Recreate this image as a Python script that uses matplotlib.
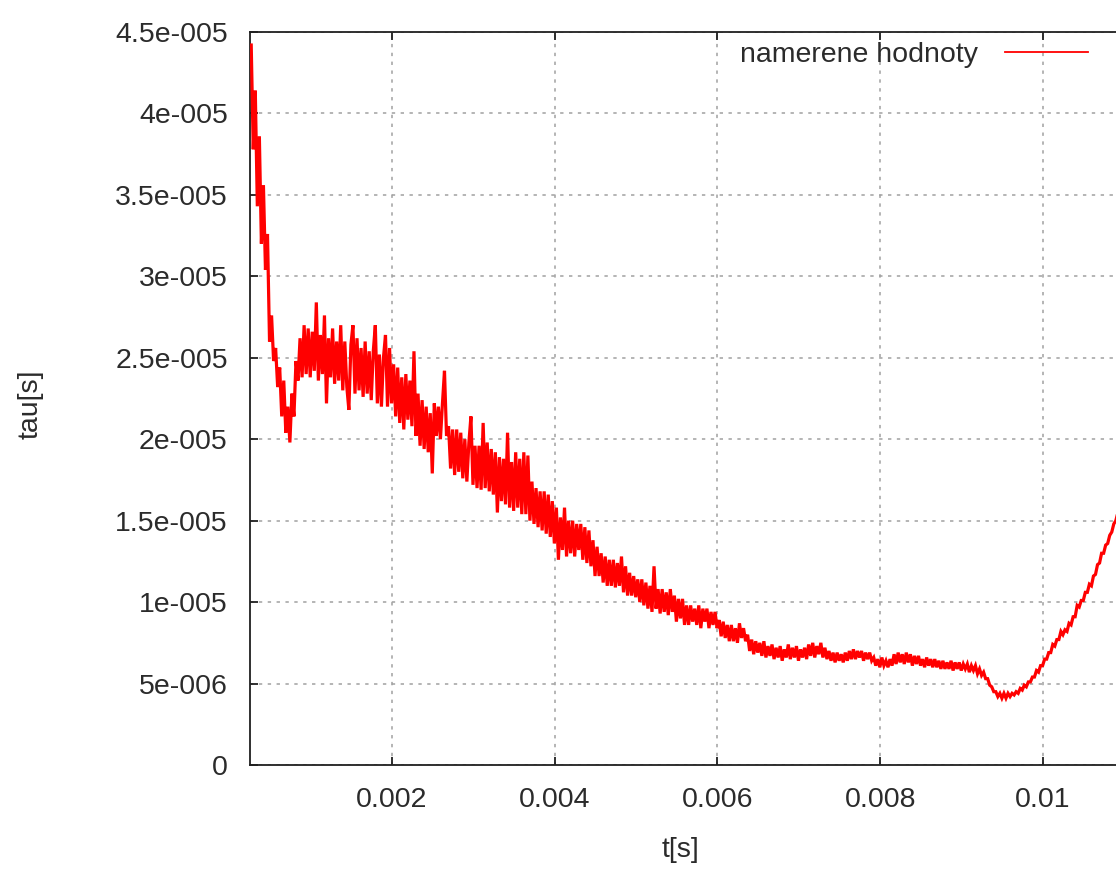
import numpy as np
import matplotlib
matplotlib.use("Agg")
import matplotlib.pyplot as plt
from matplotlib.ticker import FuncFormatter, FixedLocator

# measured relaxation time tau [us], sampled every 25 us of t
DT = 2.5e-5

T0_EARLY = 0.00027
tau_early_us = [
    44.2, 37.8, 41.4, 34.3, 38.6, 32.0, 35.6, 30.4, 32.6, 26.0,
    27.6, 24.8, 25.6, 23.2, 24.4, 21.4, 23.6, 20.4, 22.0, 19.8,
    22.8, 21.4, 24.8, 23.6, 26.2, 23.8, 27.0, 24.0, 26.8, 23.8,
    26.6, 24.2, 28.4, 23.6, 26.4, 24.0, 27.6, 22.2, 26.2, 23.8,
    26.8, 23.4, 26.0, 23.6, 27.0, 23.0, 26.0, 23.2, 21.8, 25.8,
    27.0, 22.8, 26.2, 23.0, 25.6, 22.6, 26.0, 22.8, 25.4, 22.4,
    25.4, 27.0, 22.2, 25.2, 22.0, 25.0, 26.4, 22.0, 25.6, 22.2,
    24.6, 21.4, 24.4, 21.0, 23.8, 20.6, 24.0, 21.2, 23.6, 20.8,
    25.4, 20.2, 22.8, 19.6, 22.4, 19.4, 22.0, 19.2, 21.6, 17.9,
    22.2, 20.2, 22.0, 20.0, 22.2, 24.2, 20.2, 20.8, 18.2, 20.6,
    17.8, 20.6, 18.0, 20.4, 17.6, 20.0, 17.4, 19.8, 21.4, 17.2,
    19.6, 17.0, 19.6, 16.9, 21.0, 17.0, 19.8, 16.8, 19.4, 16.6,
    19.2, 15.5, 18.9, 16.2, 18.8, 16.0, 20.4, 15.8, 18.6, 15.6,
    19.2, 15.8, 18.8, 15.4, 19.2, 15.4, 19.0, 15.0, 17.4, 14.8,
    17.0, 14.6, 16.8, 14.4, 16.8, 14.2, 16.6, 14.0, 16.2, 13.6,
    15.8, 12.6, 15.2, 13.2, 15.8, 12.8, 15.0, 13.0, 15.0, 12.8,
    14.8, 13.2, 14.8, 12.6, 14.6, 12.4, 14.4, 12.2, 13.8, 11.6,
    13.4, 11.6, 13.0, 11.2, 12.8, 11.0, 12.6, 11.0, 12.6, 10.9,
    12.4, 11.0, 12.8, 10.6, 12.2, 10.4, 11.8, 10.4, 11.6, 10.3,
    11.4, 10.0, 11.4, 9.8, 11.2, 9.6, 11.0, 9.4, 12.2, 9.6,
    10.8, 9.3, 10.8, 9.4, 10.6, 9.2, 10.8, 9.4, 10.4, 8.8,
    10.2, 9.0, 10.2, 8.6, 9.8, 8.6, 9.8, 8.8, 9.6, 8.6,
    9.8, 8.4, 9.6, 8.8, 9.6, 8.4, 9.4, 8.6, 9.4, 8.4,
    8.9, 7.9, 8.8, 7.8, 8.6, 7.6, 8.6, 7.6, 8.4, 7.5,
]

T0_LATE = 0.00627
tau_late_us = [
    8.7, 7.8, 8.4, 7.6, 8.0, 7.0, 7.7, 6.8, 7.6, 6.9,
    7.5, 6.7, 7.6, 6.6, 7.3, 6.7, 7.4, 6.5, 7.2, 6.6,
    7.3, 6.4, 7.1, 6.6, 7.4, 6.5, 7.2, 6.6, 7.3, 6.4,
    7.1, 6.6, 7.2, 6.5, 7.4, 6.7, 7.5, 6.6, 7.3, 6.8,
    7.5, 6.6, 7.2, 6.5, 7.0, 6.4, 6.9, 6.3, 6.9, 6.4,
    6.8, 6.3, 6.9, 6.4, 7.0, 6.5, 7.1, 6.5, 7.0, 6.6,
    7.0, 6.4, 6.9, 6.5, 6.9, 6.4, 6.6, 6.1, 6.5, 6.0,
    6.6, 6.1, 6.4, 6.0, 6.5, 6.1, 6.8, 6.2, 6.9, 6.3,
    6.8, 6.2, 6.9, 6.3, 6.8, 6.1, 6.7, 6.2, 6.7, 6.1,
    6.5, 6.0, 6.6, 6.1, 6.5, 6.0, 6.5, 6.0, 6.4, 5.9,
    6.4, 5.9, 6.3, 5.9, 6.4, 5.8, 6.3, 5.9, 6.3, 5.8,
    6.2, 5.9, 6.2, 5.7, 6.1, 5.8, 6.1, 5.6, 5.9, 5.5,
    5.7, 5.3, 5.3, 4.9, 4.8, 4.5, 4.5, 4.2, 4.4, 4.1,
    4.4, 4.1, 4.4, 4.2, 4.4, 4.3, 4.5, 4.4, 4.7, 4.6,
    4.9, 4.8, 5.1, 5.1, 5.4, 5.4, 5.8, 5.7, 6.1, 6.1,
    6.5, 6.5, 6.9, 6.9, 7.4, 7.3, 7.7, 7.7, 8.2, 8.0,
    8.3, 8.2, 8.7, 8.6, 9.1, 9.1, 9.8, 9.7, 10.1, 10.1,
    10.6, 10.6, 11.1, 11.0, 11.6, 11.7, 12.3, 12.4, 13.0, 13.0,
    13.5, 13.6, 14.1, 14.3, 14.8, 15.0, 15.5, 15.7, 16.1, 16.4,
]

t = np.concatenate([T0_EARLY + DT * np.arange(len(tau_early_us)),
                    T0_LATE + DT * np.arange(len(tau_late_us))])
tau = np.concatenate([tau_early_us, tau_late_us]) * 1e-6

X_MIN, X_MAX = 0.000255, 0.012
Y_MIN, Y_MAX = 0.0, 4.5e-5
x_ticks = [0.002, 0.004, 0.006, 0.008, 0.01]
y_ticks = [0, 5e-6, 1e-5, 1.5e-5, 2e-5, 2.5e-5, 3e-5, 3.5e-5, 4e-5, 4.5e-5]

plt.rcParams["font.family"] = ["Liberation Sans", "DejaVu Sans"]
FS = 20.5
TXT = "#2b2b2b"

W, H = 1116, 871
fig = plt.figure(figsize=(W / 100, H / 100), dpi=100)
left_px, top_px, bottom_px = 250, 32, 765
px_per_s = 162.75 / 0.002
right_px = 392 + (X_MAX - 0.002) * px_per_s
ax = fig.add_axes([left_px / W, 1 - bottom_px / H,
                   (right_px - left_px) / W, (bottom_px - top_px) / H])

ax.plot(t, tau, color="#ff0000", lw=2.3, solid_joinstyle="miter",
        label="namerene hodnoty", zorder=3)

ax.set_xlim(X_MIN, X_MAX)
ax.set_ylim(Y_MIN, Y_MAX)
ax.xaxis.set_major_locator(FixedLocator(x_ticks))
ax.yaxis.set_major_locator(FixedLocator(y_ticks))


def sci_label(v, pos):
    if abs(v) < 1e-12:
        return "0"
    s = "%g" % v
    if "e" in s:
        m, e = s.split("e")
        s = "%se%s%03d" % (m, e[0], int(e[1:]))
    return s


ax.yaxis.set_major_formatter(FuncFormatter(sci_label))
ax.xaxis.set_major_formatter(FuncFormatter(lambda v, p: "%g" % v))

ax.grid(True, color="#a0a0a0", lw=1.1, linestyle=(0, (2.2, 3.6)))
ax.set_axisbelow(True)
ax.tick_params(axis="both", direction="in", length=6, width=1.3,
               color="#202020", labelsize=FS, labelcolor=TXT,
               top=True, right=True)
ax.tick_params(axis="x", pad=16)
ax.tick_params(axis="y", pad=16)
for sp in ax.spines.values():
    sp.set_color("#202020")
    sp.set_linewidth(1.3)

fig.text(681 / W, 1 - 850 / H, "t[s]", ha="center", va="center",
         fontsize=FS, color=TXT)
fig.text(31 / W, 1 - 404 / H, "tau[s]", ha="center", va="center",
         rotation=90, fontsize=FS, color=TXT)

leg = ax.legend(loc="center right", bbox_to_anchor=(1088 / W, 1 - 55 / H),
                bbox_transform=fig.transFigure, frameon=False,
                markerfirst=False, handlelength=2.9, handletextpad=0.95,
                borderpad=0, borderaxespad=0, fontsize=FS)
for txt in leg.get_texts():
    txt.set_color(TXT)
for line in leg.get_lines():
    line.set_linewidth(1.3)

fig.savefig("out.png", dpi=100, facecolor="white")
